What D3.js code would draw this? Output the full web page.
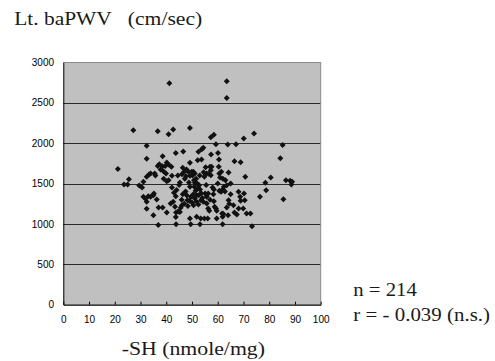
<!DOCTYPE html>
<html><head><meta charset="utf-8">
<script src="https://cdn.jsdelivr.net/npm/d3@7"></script>
<style>
html,body{margin:0;padding:0;background:#fff;}
svg{display:block;}
</style></head>
<body>
<svg id="chart" width="495" height="361"></svg>
<script>
// -SH (nmole/mg)
const shValues = [41.2,63.5,63.5,27.2,36.7,40.9,42.7,49.2,57.3,58.5,74.1,70.1,32.4,63.9,67.1,59.3,85.2,54.4,53.8,32.4,
38.6,43.7,46.6,52.5,57.4,60.1,60.5,66.5,68.9,84.3,52.2,53.7,21.2,23.6,25.0,25.5,29.5,30.6,31.1,31.1,
31.9,32.4,32.4,33.0,33.9,35.0,35.2,32.4,33.3,33.9,35.5,36.7,37.3,37.8,38.5,38.9,39.6,40.2,40.9,39.9,
40.9,40.2,42.2,42.0,35.0,36.9,36.3,37.0,38.6,40.2,41.7,42.7,42.2,43.0,43.7,43.4,43.8,43.7,43.8,44.6,
45.3,45.3,46.1,46.4,46.8,46.4,46.1,47.0,47.7,47.9,48.6,49.2,49.9,49.2,48.8,49.2,48.2,49.0,49.6,50.0,
49.2,49.5,48.4,50.5,51.1,50.8,51.1,50.9,51.4,50.5,51.8,51.1,51.8,52.8,53.1,52.6,53.5,54.4,51.8,53.1,
53.4,54.8,55.7,55.7,55.1,56.3,55.7,56.3,56.7,54.8,56.1,57.0,57.6,57.3,57.3,58.3,58.5,58.8,59.3,59.6,
59.6,60.4,60.6,60.9,61.4,61.3,60.6,61.9,61.7,62.2,61.9,61.9,63.0,62.4,63.5,64.2,65.0,65.0,64.2,63.5,
64.0,66.1,66.5,67.4,68.1,68.7,68.9,68.1,69.9,70.5,70.2,70.7,71.2,72.7,73.3,76.4,78.5,78.8,80.6,85.5,
86.5,88.1,88.6,88.9,44.5,45.0,44.0,47.5,48.0,50.2,51.6,52.0,52.4,53.6,54.0,50.6,52.5,53.0,54.5,55.3,
56.5,58.0,57.0,58.5,60.0,62.0,62.8,64.5,47.2,46.0,45.6,39.0,35.8,55.5];
// Lt. baPWV (cm/sec)
const pwvValues = [2740,2765,2559,2159,2147,2110,2168,2188,2073,2102,2118,2056,1966,1982,1986,1986,1978,1941,1925,1805,
1838,1879,1896,1892,1858,1879,1797,1776,1764,1813,1789,1797,1681,1488,1488,1554,1475,1450,1521,1335,
1310,1273,1187,1343,1335,1356,1376,1582,1611,1624,1624,1718,1739,1673,1714,1652,1718,1760,1735,1624,
1541,1529,1595,1706,1108,985,1302,1203,1203,1141,1253,1273,1450,1385,1343,1211,1141,1084,997,1154,
1146,1512,1615,1694,1640,1368,1232,1249,1591,1673,1644,1756,1644,1595,1512,1459,1294,1286,1335,1265,
1067,997,1220,1644,1624,1541,1508,1459,1409,1368,1356,1315,1273,1479,1426,1356,1294,1273,1088,997,
1067,1582,1624,1335,1376,1376,1253,1191,1162,1067,1067,1706,1706,1603,1665,1368,1426,1211,1191,1162,
1067,1706,1624,1574,1644,1397,1409,1426,1129,1121,1088,997,1541,1459,1479,1636,1500,1368,1294,1203,
1108,1232,1141,1117,1397,1335,1286,1191,1191,1294,1376,1582,1129,1129,972,1335,1508,1418,1574,1306,
1541,1533,1488,1521,1600,1480,1420,1400,1350,1600,1560,1500,1440,1380,1320,1230,1240,1600,1640,1700,
1620,1450,1300,1280,1500,1560,1400,1250,1560,1300,1200,1560,1600,1480];
const xTicks = [0,10,20,30,40,50,60,70,80,90,100];
const yTicks = [0,500,1000,1500,2000,2500,3000];
const titleText = ["Lt. baPWV", "(cm/sec)"];
const xLabelText = "-SH (nmole/mg)";
const statsText = ["n = 214", "r = - 0.039 (n.s.)"];

const svg = d3.select("#chart");
const L = 63.3, R = 320.7, T = 62.3, B = 304.7;
const x = d3.scaleLinear().domain([0,100]).range([L,R]);
const y = d3.scaleLinear().domain([0,3000]).range([B,T]);

svg.append("rect").attr("width",495).attr("height",361).attr("fill","#fff");
svg.append("rect").attr("x",L).attr("y",T).attr("width",R-L).attr("height",B-T).attr("fill","#c0c0c0");

// gridlines
svg.append("g").selectAll("line").data(yTicks.filter(d=>d>0)).join("line")
  .attr("x1",L).attr("x2",R).attr("y1",d=>Math.round(y(d))+0.5).attr("y2",d=>Math.round(y(d))+0.5)
  .attr("stroke",d=>d===3000?"#8a8a8a":"#2a2a2a").attr("stroke-width",1);
// right border
svg.append("line").attr("x1",R).attr("x2",R).attr("y1",T).attr("y2",B).attr("stroke","#8a8a8a");

// axes
const xAxis = d3.axisBottom(x).tickValues(xTicks).tickFormat(d3.format("d")).tickSizeInner(-3).tickSizeOuter(0).tickPadding(11);
const gx = svg.append("g").attr("transform",`translate(0,${B})`).call(xAxis);
const yAxis = d3.axisLeft(y).tickValues(yTicks).tickFormat(d3.format("d")).tickSize(0).tickPadding(9.3);
const gy = svg.append("g").attr("transform",`translate(${L},0)`).call(yAxis);
[gx,gy].forEach(g=>{
  g.selectAll("text").attr("font-family","'Liberation Sans', Arial, sans-serif").attr("font-size",10).attr("fill","#000");
  g.select(".domain").attr("stroke","#000");
  g.selectAll(".tick line").attr("stroke","#000");
});
gx.selectAll("text").attr("dy","0.71em");
gx.select(".domain").attr("stroke-width",1.3);

// points
const pts = shValues.map((v,i)=>({sh:v,pwv:pwvValues[i]}));
const s = 3;
svg.append("g").selectAll("path").data(pts).join("path")
  .attr("d",d=>{const cx=x(d.sh), cy=y(d.pwv);return `M${cx},${cy-s}L${cx+s},${cy}L${cx},${cy+s}L${cx-s},${cy}Z`;})
  .attr("fill","#111");

// texts
const serif = "'Liberation Serif','Times New Roman',serif";
function addText(tx, ty, len, str){
  svg.append("text").attr("x",tx).attr("y",ty).attr("font-family",serif).attr("font-size",19)
    .attr("textLength",len).attr("lengthAdjust","spacingAndGlyphs").attr("fill","#1a1a1a").text(str);
}
addText(14.3, 25, 97.4, titleText[0]);
addText(127.7, 25, 74.6, titleText[1]);
addText(121.7, 355, 143.3, xLabelText);
addText(353.3, 296, 63.5, statsText[0]);
addText(353.3, 321, 136.7, statsText[1]);
</script>
</body></html>
